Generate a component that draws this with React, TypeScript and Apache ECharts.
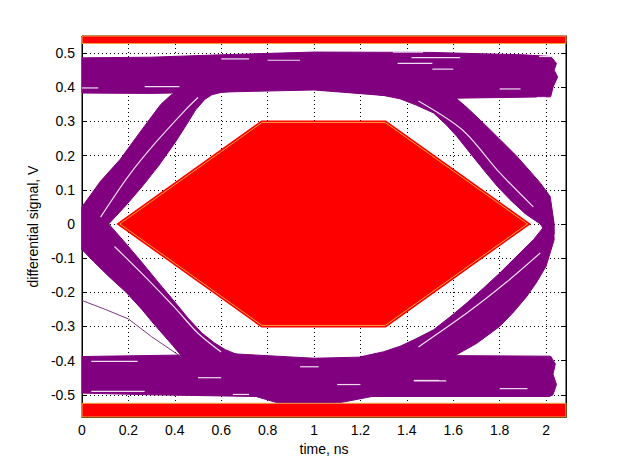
import React, { useEffect, useRef } from "react";
import * as echarts from "echarts";

// axis extents
const X_MIN = 0;
const X_MAX = 2.086;
const Y_MIN = -0.565;
const Y_MAX = 0.55;

// eye diagram trace bundles (outline of each bundle: [time ns, volts])
const topBand = [[0,0.486],[0.3,0.488],[0.6,0.495],[1.0,0.503],[1.5,0.502],[1.9,0.495],[2.02,0.49],[2.045,0.47],[2.035,0.45],[2.05,0.43],[2.03,0.40],[2.02,0.372],[1.6,0.368],[1.3,0.376],[1.0,0.392],[0.6,0.386],[0.3,0.382],[0,0.383]];
const leftRising = [[0,0.05],[0.08,0.125],[0.166,0.19],[0.23,0.25],[0.29,0.305],[0.34,0.35],[0.38,0.375],[0.42,0.395],[0.45,0.43],[0.66,0.43],[0.66,0.389],[0.6,0.385],[0.56,0.378],[0.53,0.365],[0.49,0.334],[0.45,0.29],[0.40,0.237],[0.33,0.17],[0.26,0.11],[0.19,0.055],[0.115,0],[0.05,-0.04],[0,-0.075]];
const leftFalling = [[0,0.05],[0.06,0.03],[0.115,0],[0.19,-0.058],[0.26,-0.114],[0.33,-0.172],[0.403,-0.231],[0.46,-0.278],[0.518,-0.32],[0.57,-0.348],[0.618,-0.368],[0.675,-0.384],[0.75,-0.389],[0.75,-0.43],[0.45,-0.43],[0.431,-0.388],[0.39,-0.355],[0.345,-0.32],[0.30,-0.285],[0.259,-0.251],[0.19,-0.2],[0.116,-0.154],[0.05,-0.11],[0,-0.075]];
const rightFalling = [[1.2,0.42],[1.2,0.385],[1.30,0.376],[1.371,0.366],[1.44,0.348],[1.515,0.325],[1.57,0.29],[1.616,0.256],[1.67,0.21],[1.73,0.159],[1.79,0.11],[1.845,0.071],[1.91,0.03],[1.975,0],[2.005,-0.03],[2.035,-0.03],[2.035,0.0],[2.018,0.08],[1.975,0.12],[1.93,0.155],[1.874,0.198],[1.80,0.248],[1.73,0.295],[1.66,0.34],[1.587,0.383],[1.55,0.42]];
const rightRising = [[1.2,-0.42],[1.2,-0.389],[1.30,-0.374],[1.371,-0.358],[1.44,-0.336],[1.515,-0.31],[1.59,-0.27],[1.659,-0.231],[1.73,-0.188],[1.80,-0.144],[1.87,-0.097],[1.946,-0.046],[2.0,0.0],[2.03,0.01],[2.035,-0.046],[2.0,-0.124],[1.96,-0.17],[1.917,-0.212],[1.86,-0.258],[1.80,-0.3],[1.70,-0.35],[1.587,-0.393],[1.55,-0.42]];
const bottomBand = [[0,-0.388],[0.5,-0.383],[0.65,-0.38],[1.0,-0.393],[1.5,-0.385],[2.02,-0.387],[2.04,-0.41],[2.03,-0.44],[2.045,-0.47],[2.03,-0.5],[2.015,-0.505],[1.5,-0.505],[1.25,-0.505],[1.12,-0.522],[0.98,-0.534],[0.85,-0.525],[0.75,-0.505],[0.3,-0.5],[0,-0.495]];
const strayTrace = [[0,-0.224],[0.1,-0.25],[0.2,-0.278],[0.3,-0.33],[0.43,-0.39]];

// thin gaps between trace groups inside the transition bundles
const gapLeftRising = [[0.08,0.02],[0.2,0.14],[0.316,0.237],[0.446,0.334],[0.5,0.37]];
const gapLeftFalling = [[0.14,-0.066],[0.28,-0.16],[0.40,-0.245],[0.5,-0.32],[0.6,-0.375]];
const gapRightFalling = [[1.45,0.36],[1.64,0.275],[1.8,0.15],[1.945,0.05]];
const gapRightRising = [[1.45,-0.36],[1.66,-0.26],[1.83,-0.17],[1.975,-0.085]];
// short gaps inside the level bundles: [t start, t end, volts]
const levelGaps = [
  [0.0,0.07,0.398],[0.27,0.42,0.402],[0.6,0.72,0.483],[0.8,0.94,0.479],[1.36,1.51,0.47],
  [1.34,1.47,0.503],[1.42,1.63,0.487],[1.51,1.6,0.453],[1.97,2.03,0.49],[1.8,1.89,0.395],[1.96,2.0,0.37],
  [1.43,1.57,-0.459],[1.8,1.92,-0.482],[0.04,0.24,-0.402],[0.04,0.27,-0.49],[0.94,1.02,-0.418],
  [0.65,0.72,-0.499],[1.43,1.54,-0.458],[0.5,0.6,-0.45],[1.1,1.2,-0.47],
];

// compliance mask
const maskHexagon = [[0.163,0],[0.776,0.297],[1.307,0.297],[1.92,0],[1.307,-0.297],[0.776,-0.297]];
const maskTop = [[0,0.528],[2.086,0.528],[2.086,0.55],[0,0.55]];
const maskBottom = [[0,-0.525],[2.086,-0.525],[2.086,-0.565],[0,-0.565]];

const PURPLE = "#800080";
const RED = "#ff0000";
const EDGE = "#f2a33a";
const GAP = "#efdcef";

function polySeries(points: number[][], fill: string, stroke: string, lw: number, z: number, outerRed = false) {
  return {
    type: "custom",
    z,
    data: points,
    encode: { x: 0, y: 1 },
    silent: true,
    renderItem: (params: any, api: any) => {
      if (params.dataIndex !== 0) return null;
      const pts = points.map((p) => api.coord(p));
      if (outerRed) {
        return {
          type: "group",
          children: [
            { type: "polygon", shape: { points: pts }, style: { fill: RED, stroke: RED, lineWidth: 4 } },
            { type: "polygon", shape: { points: pts }, style: { fill: RED, stroke: EDGE, lineWidth: 1 } },
          ],
        };
      }
      return { type: "polygon", shape: { points: pts }, style: { fill, stroke, lineWidth: lw } };
    },
  };
}

function gapLine(points: number[][]) {
  return {
    type: "line",
    data: points,
    z: 3,
    symbol: "none",
    silent: true,
    smooth: 0.3,
    lineStyle: { color: GAP, width: 1.2 },
  };
}

export default function App() {
  const ref = useRef<HTMLDivElement>(null);
  useEffect(() => {
    if (!ref.current) return;
    const chart = echarts.init(ref.current, null, { renderer: "svg" });
    const font = "'Liberation Sans', Arial, sans-serif";
    const gridLine = { show: true, lineStyle: { color: "#000", type: [1, 3], width: 1 } };
    const xBase = { type: "value", min: X_MIN, max: X_MAX, splitNumber: 10 };
    const yBase = { type: "value", min: Y_MIN, max: Y_MAX, splitNumber: 11 };
    chart.setOption({
      animation: false,
      backgroundColor: "#fff",
      grid: { left: 82, right: 59, top: 36, bottom: 50, show: true, borderColor: "#000", borderWidth: 1, backgroundColor: "transparent" },
      xAxis: [
        {
          ...xBase,
          position: "bottom",
          name: "time, ns",
          nameLocation: "middle",
          nameGap: 17,
          nameTextStyle: { fontFamily: font, fontSize: 14, color: "#000" },
          axisLine: { show: true, onZero: false, lineStyle: { color: "#000" } },
          axisTick: { show: true, inside: true, length: 5, lineStyle: { color: "#000" } },
          axisLabel: { fontFamily: font, fontSize: 14, color: "#000", margin: 6, showMinLabel: true, showMaxLabel: false },
          splitLine: gridLine,
        },
        {
          ...xBase,
          position: "top",
          axisLine: { show: true, onZero: false, lineStyle: { color: "#000" } },
          axisTick: { show: true, inside: true, length: 5, lineStyle: { color: "#000" } },
          axisLabel: { show: false },
          splitLine: { show: false },
        },
      ],
      yAxis: [
        {
          ...yBase,
          position: "left",
          name: "differential signal, V",
          nameLocation: "middle",
          nameGap: 38,
          nameTextStyle: { fontFamily: font, fontSize: 14, color: "#000" },
          axisLine: { show: true, onZero: false, lineStyle: { color: "#000" } },
          axisTick: { show: true, inside: true, length: 5, lineStyle: { color: "#000" } },
          axisLabel: { fontFamily: font, fontSize: 14, color: "#000", margin: 7, showMinLabel: false, showMaxLabel: false },
          splitLine: gridLine,
        },
        {
          ...yBase,
          position: "right",
          axisLine: { show: true, onZero: false, lineStyle: { color: "#000" } },
          axisTick: { show: true, inside: true, length: 5, lineStyle: { color: "#000" } },
          axisLabel: { show: false },
          splitLine: { show: false },
        },
      ],
      series: [
        polySeries(topBand, PURPLE, PURPLE, 1, 2),
        polySeries(bottomBand, PURPLE, PURPLE, 1, 2),
        polySeries(leftRising, PURPLE, PURPLE, 1, 2),
        polySeries(leftFalling, PURPLE, PURPLE, 1, 2),
        polySeries(rightFalling, PURPLE, PURPLE, 1, 2),
        polySeries(rightRising, PURPLE, PURPLE, 1, 2),
        gapLine(gapLeftRising),
        gapLine(gapLeftFalling),
        gapLine(gapRightFalling),
        gapLine(gapRightRising),
        {
          type: "custom",
          z: 3,
          silent: true,
          data: levelGaps,
          encode: { x: [0, 1], y: 2 },
          renderItem: (params: any, api: any) => {
            const a = api.coord([api.value(0), api.value(2)]);
            const b = api.coord([api.value(1), api.value(2)]);
            return { type: "line", shape: { x1: a[0], y1: a[1], x2: b[0], y2: b[1] }, style: { stroke: GAP, lineWidth: 1.2 } };
          },
        },
        {
          type: "line",
          data: strayTrace,
          z: 3,
          symbol: "none",
          silent: true,
          lineStyle: { color: "#7a3a7a", width: 1 },
        },
        polySeries(maskHexagon, RED, EDGE, 1, 4, true),
        polySeries(maskTop, RED, EDGE, 1, 4),
        polySeries(maskBottom, RED, EDGE, 1, 4),
      ],
    });
    return () => chart.dispose();
  }, []);
  return <div ref={ref} style={{ width: 625, height: 467, position: "absolute", left: 0, top: 0 }} />;
}
